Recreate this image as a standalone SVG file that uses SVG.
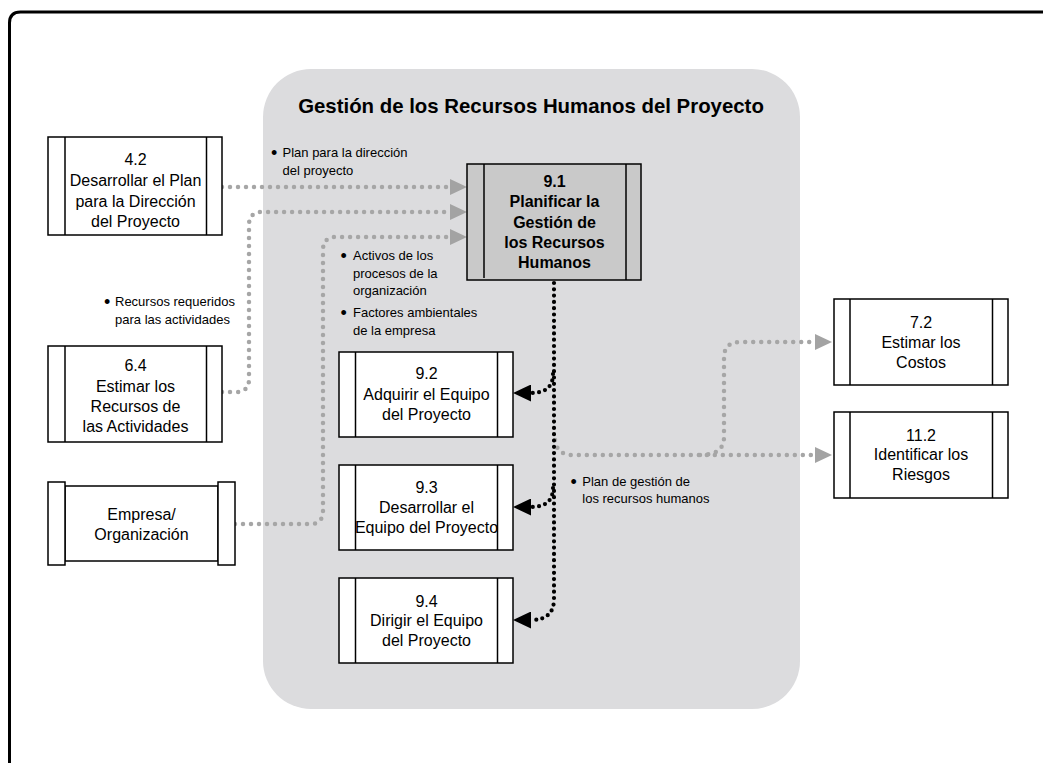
<svg xmlns="http://www.w3.org/2000/svg" width="1043" height="763" viewBox="0 0 1043 763">
<style>
.t{font-family:"Liberation Sans",Arial,sans-serif;font-size:16px;text-anchor:middle;fill:#000}
.tb{font-family:"Liberation Sans",Arial,sans-serif;font-size:16px;font-weight:bold;text-anchor:middle;fill:#000}
.lbl{font-family:"Liberation Sans",Arial,sans-serif;font-size:13px;fill:#000}
.bul{font-size:18px}
.title{font-family:"Liberation Sans",Arial,sans-serif;font-size:20.4px;font-weight:bold;text-anchor:middle;fill:#000}
.box{fill:#fff;stroke:#000;stroke-width:1.5}
.bar{stroke:#000;stroke-width:1.5}
.gdot{fill:none;stroke:#a6a6a6;stroke-width:4.5;stroke-linecap:round;stroke-dasharray:0 8}
.bdot{fill:none;stroke:#000;stroke-width:4.2;stroke-linecap:round;stroke-dasharray:0 6.3}
</style>
<defs>
<marker id="ga" viewBox="0 0 17 16" refX="0" refY="8" markerWidth="17" markerHeight="16" markerUnits="userSpaceOnUse" orient="auto">
<path d="M0,0 L17,8 L0,16 Z" fill="#a3a3a3"/>
</marker>
<marker id="ba" viewBox="0 0 18 17" refX="0" refY="8.5" markerWidth="18" markerHeight="17" markerUnits="userSpaceOnUse" orient="auto">
<path d="M0,0 L18,8.5 L0,17 Z" fill="#000"/>
</marker>
</defs>
<rect width="1043" height="763" fill="#fff"/>
<path d="M9.5,763 V23 Q9.5,12 20.5,12 H1043" fill="none" stroke="#000" stroke-width="3"/>
<g id="grupo-gestion">
<rect x="263" y="69" width="537" height="640" rx="48" ry="48" fill="#dcdcde"/>
<text class="title" x="531" y="112.5">Gestión de los Recursos Humanos del Proyecto</text>
</g>
<g id="conectores">
<path class="gdot" d="M222,187 H450" marker-end="url(#ga)"/>
<path class="gdot" d="M222,392 H236 Q249,392 249,379 V225 Q249,212 262,212 H450" marker-end="url(#ga)"/>
<path class="gdot" d="M235,524 H310 Q323,524 323,511 V250 Q323,237 336,237 H450" marker-end="url(#ga)"/>
<path class="gdot" d="M555,440 Q557,455 572,455 H815" marker-end="url(#ga)"/>
<path class="gdot" d="M700,455 Q724,455 724,437 V358 Q724,342 740,342 H815" marker-end="url(#ga)"/>
<path class="bdot" d="M554,283 V599 Q554,620 531,620" marker-end="url(#ba)"/>
<path class="bdot" d="M553,374 Q553,393 531,393" marker-end="url(#ba)"/>
<path class="bdot" d="M553,488 Q553,507 531,507" marker-end="url(#ba)"/>
</g>
<g id="etiquetas">
<text class="lbl" x="271" y="159"><tspan class="bul">•</tspan><tspan x="282.5" y="157">Plan para la dirección</tspan></text>
<text class="lbl" x="282.5" y="175">del proyecto</text>
<text class="lbl" x="104" y="307.5"><tspan class="bul">•</tspan><tspan x="115" y="305.5">Recursos requeridos</tspan></text>
<text class="lbl" x="115" y="323.5">para las actividades</text>
<text class="lbl" x="340.5" y="262"><tspan class="bul">•</tspan><tspan x="353" y="260">Activos de los</tspan></text>
<text class="lbl" x="353" y="277.7">procesos de la</text>
<text class="lbl" x="353" y="295.4">organización</text>
<text class="lbl" x="340.5" y="318.7"><tspan class="bul">•</tspan><tspan x="353" y="316.7">Factores ambientales</tspan></text>
<text class="lbl" x="353" y="334.7">de la empresa</text>
<text class="lbl" x="570.5" y="487.7"><tspan class="bul">•</tspan><tspan x="582.3" y="485.7">Plan de gestión de</tspan></text>
<text class="lbl" x="582.3" y="503">los recursos humanos</text>
</g>
<g id="n42">
<rect class="box" x="48" y="137" width="174" height="98"/>
<line class="bar" x1="65" y1="137" x2="65" y2="235"/>
<line class="bar" x1="206.5" y1="137" x2="206.5" y2="235"/>
<text class="t" x="135.5" y="165">4.2</text>
<text class="t" x="135.5" y="186">Desarrollar el Plan</text>
<text class="t" x="135.5" y="206.5">para la Dirección</text>
<text class="t" x="135.5" y="227">del Proyecto</text>
</g>
<g id="n64">
<rect class="box" x="48" y="346" width="174" height="96"/>
<line class="bar" x1="65" y1="346" x2="65" y2="442"/>
<line class="bar" x1="206.5" y1="346" x2="206.5" y2="442"/>
<text class="t" x="135.5" y="371">6.4</text>
<text class="t" x="135.5" y="391.5">Estimar los</text>
<text class="t" x="135.5" y="412">Recursos de</text>
<text class="t" x="135.5" y="432">las Actividades</text>
</g>
<g id="nempresa">
<rect class="box" x="65" y="486" width="153" height="75"/>
<rect class="box" x="48" y="482" width="17" height="83"/>
<rect class="box" x="218" y="482" width="17" height="83"/>
<text class="t" x="141.5" y="520">Empresa/</text>
<text class="t" x="141.5" y="540">Organización</text>
</g>
<g id="n91">
<rect x="467" y="164" width="174" height="116" fill="#c9c9c9" stroke="#000" stroke-width="1.5"/>
<line class="bar" x1="484" y1="164" x2="484" y2="278"/>
<line class="bar" x1="626" y1="164" x2="626" y2="280"/>
<text class="tb" x="554.5" y="186.5">9.1</text>
<text class="tb" x="554.5" y="207">Planificar la</text>
<text class="tb" x="554.5" y="227.5">Gestión de</text>
<text class="tb" x="554.5" y="248">los Recursos</text>
<text class="tb" x="554.5" y="268">Humanos</text>
</g>
<g id="n92">
<rect class="box" x="339" y="352" width="174" height="85"/>
<line class="bar" x1="355.5" y1="352" x2="355.5" y2="437"/>
<line class="bar" x1="497.5" y1="352" x2="497.5" y2="437"/>
<text class="t" x="426.5" y="378.5">9.2</text>
<text class="t" x="426.5" y="399.5">Adquirir el Equipo</text>
<text class="t" x="426.5" y="420">del Proyecto</text>
</g>
<g id="n93">
<rect class="box" x="339" y="465" width="174" height="85"/>
<line class="bar" x1="355.5" y1="465" x2="355.5" y2="550"/>
<line class="bar" x1="497.5" y1="465" x2="497.5" y2="550"/>
<text class="t" x="426.5" y="493">9.3</text>
<text class="t" x="426.5" y="513">Desarrollar el</text>
<text class="t" x="426.5" y="533">Equipo del Proyecto</text>
</g>
<g id="n94">
<rect class="box" x="339" y="578" width="174" height="85"/>
<line class="bar" x1="355.5" y1="578" x2="355.5" y2="663"/>
<line class="bar" x1="497.5" y1="578" x2="497.5" y2="663"/>
<text class="t" x="426.5" y="606.5">9.4</text>
<text class="t" x="426.5" y="626">Dirigir el Equipo</text>
<text class="t" x="426.5" y="645.5">del Proyecto</text>
</g>
<g id="n72">
<rect class="box" x="834" y="299" width="174" height="86"/>
<line class="bar" x1="850" y1="299" x2="850" y2="385"/>
<line class="bar" x1="992.5" y1="299" x2="992.5" y2="385"/>
<text class="t" x="921" y="327.5">7.2</text>
<text class="t" x="921" y="347.5">Estimar los</text>
<text class="t" x="921" y="367.5">Costos</text>
</g>
<g id="n112">
<rect class="box" x="834" y="412" width="174" height="86"/>
<line class="bar" x1="850" y1="412" x2="850" y2="498"/>
<line class="bar" x1="992.5" y1="412" x2="992.5" y2="498"/>
<text class="t" x="921" y="440.5">11.2</text>
<text class="t" x="921" y="460">Identificar los</text>
<text class="t" x="921" y="479.5">Riesgos</text>
</g>
</svg>
